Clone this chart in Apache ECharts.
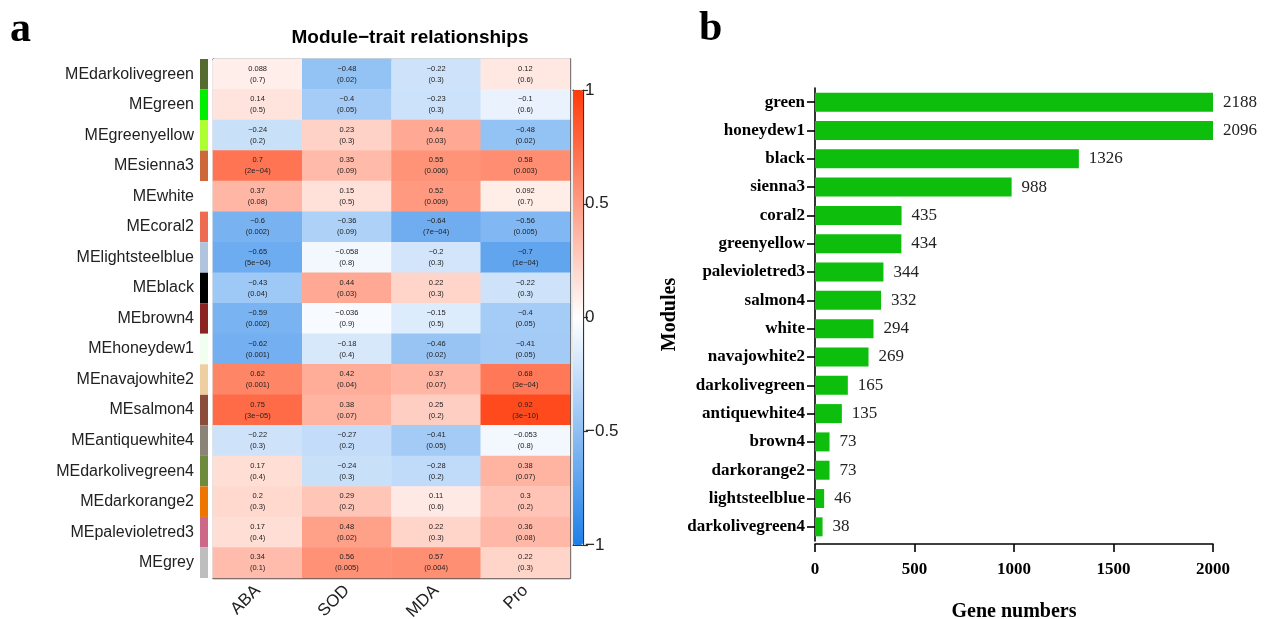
<!DOCTYPE html>
<html>
<head>
<meta charset="utf-8">
<script src="https://cdn.jsdelivr.net/npm/echarts@6/dist/echarts.min.js"></script>
<style>
html,body{margin:0;padding:0;background:#fff;}
#chart{width:1265px;height:619px;}
</style>
</head>
<body>
<div id="chart"></div>
<script>
// ---------- Panel a data ----------
const modules = ['MEdarkolivegreen','MEgreen','MEgreenyellow','MEsienna3','MEwhite','MEcoral2','MElightsteelblue','MEblack','MEbrown4','MEhoneydew1','MEnavajowhite2','MEsalmon4','MEantiquewhite4','MEdarkolivegreen4','MEdarkorange2','MEpalevioletred3','MEgrey'];
const moduleColors = ['#556B2F','#00EE00','#ADFF2F','#CD6839','#FFFFFF','#EE6A50','#B0C4DE','#000000','#8B2323','#F0FFF0','#EECFA1','#8B4C39','#8B8378','#6E8B3D','#EE7600','#CD6889','#BEBEBE'];
const traits = ['ABA','SOD','MDA','Pro'];
const corABA = [0.088,0.14,-0.24,0.7,0.37,-0.6,-0.65,-0.43,-0.59,-0.62,0.62,0.75,-0.22,0.17,0.2,0.17,0.34];
const corSOD = [-0.48,-0.4,0.23,0.35,0.15,-0.36,-0.058,0.44,-0.036,-0.18,0.42,0.38,-0.27,-0.24,0.29,0.48,0.56];
const corMDA = [-0.22,-0.23,0.44,0.55,0.52,-0.64,-0.2,0.22,-0.15,-0.46,0.37,0.25,-0.41,-0.28,0.11,0.22,0.57];
const corPro = [0.12,-0.1,-0.48,0.58,0.092,-0.56,-0.7,-0.22,-0.4,-0.41,0.68,0.92,-0.053,0.38,0.3,0.36,0.22];
const pABA = ['0.7','0.5','0.2','2e-04','0.08','0.002','5e-04','0.04','0.002','0.001','0.001','3e-05','0.3','0.4','0.3','0.4','0.1'];
const pSOD = ['0.02','0.05','0.3','0.09','0.5','0.09','0.8','0.03','0.9','0.4','0.04','0.07','0.2','0.3','0.2','0.02','0.005'];
const pMDA = ['0.3','0.3','0.03','0.006','0.009','7e-04','0.3','0.3','0.5','0.02','0.07','0.2','0.05','0.2','0.6','0.3','0.004'];
const pPro = ['0.6','0.6','0.02','0.003','0.7','0.005','1e-04','0.3','0.05','0.05','3e-04','3e-10','0.8','0.07','0.2','0.08','0.3'];
const colorbarTicks = [-1,-0.5,0,0.5,1];

// ---------- Panel b data ----------
const barModules = ['green','honeydew1','black','sienna3','coral2','greenyellow','palevioletred3','salmon4','white','navajowhite2','darkolivegreen','antiquewhite4','brown4','darkorange2','lightsteelblue','darkolivegreen4'];
const geneCounts = [2188,2096,1326,988,435,434,344,332,294,269,165,135,73,73,46,38];

// ---------- build ----------
const corCols = [corABA, corSOD, corMDA, corPro];
const pCols = [pABA, pSOD, pMDA, pPro];
const minus = s => String(s).replace(/-/g, '\u2212');
const heatData = [];
corCols.forEach((col, ci) => col.forEach((v, ri) => heatData.push([ci, ri, v])));

const SANS = 'Liberation Sans';
const SERIF = 'Liberation Serif';
const frameLine = {show: true, onZero: false, lineStyle: {color: '#555', width: 1.3}};

const option = {
  animation: false,
  backgroundColor: '#fff',
  title: [
    {text: 'a', left: 10, top: 9, padding: 0, textStyle: {fontFamily: SERIF, fontWeight: 'bold', fontSize: 42, color: '#000'}},
    {text: 'b', left: 699, top: 8, padding: 0, textStyle: {fontFamily: SERIF, fontWeight: 'bold', fontSize: 42, color: '#000'}},
    {text: 'Module\u2212trait relationships', left: 410, top: 28, padding: 0, textAlign: 'center',
     textStyle: {fontFamily: SANS, fontWeight: 'bold', fontSize: 19, color: '#000'}}
  ],
  grid: [
    {left: 213, top: 59, width: 357, height: 519, outerBoundsMode: 'none', containLabel: false},
    {left: 200, top: 59, width: 8, height: 519, outerBoundsMode: 'none', containLabel: false},
    {left: 573, top: 90, width: 10, height: 455, outerBoundsMode: 'none', containLabel: false},
    {left: 815, top: 88, width: 398, height: 453, outerBoundsMode: 'none', containLabel: false}
  ],
  visualMap: {
    type: 'continuous', seriesIndex: 0, min: -1, max: 1, calculable: false,
    left: 573, top: 90, itemWidth: 10, itemHeight: 455, padding: 0, text: null,
    inRange: {color: ['#1E7FE8', '#FFFFFF', '#FF3A0A']}
  },
  xAxis: [
    {gridIndex: 0, type: 'category', data: traits, position: 'bottom', axisLine: frameLine, axisTick: {show: false},
     axisLabel: {rotate: 45, fontFamily: SANS, fontSize: 17, color: '#222', margin: 10}},
    {gridIndex: 0, type: 'category', data: traits, position: 'top', axisLine: frameLine, axisTick: {show: false}, axisLabel: {show: false}},
    {gridIndex: 1, type: 'value', min: 0, max: 1, show: false},
    {gridIndex: 2, type: 'value', min: 0, max: 1, position: 'bottom', axisLine: {show: true, onZero: false, lineStyle: {color: '#333', width: 1.2}}, axisTick: {show: false}, axisLabel: {show: false}, splitLine: {show: false}},
    {gridIndex: 2, type: 'value', min: 0, max: 1, position: 'top', axisLine: {show: true, onZero: false, lineStyle: {color: '#333', width: 1.2}}, axisTick: {show: false}, axisLabel: {show: false}, splitLine: {show: false}},
    {gridIndex: 3, type: 'value', min: 0, max: 2000, interval: 500, offset: 3,
     axisLine: {show: true, onZero: false, lineStyle: {color: '#000', width: 1.6}},
     axisTick: {show: true, length: 8, lineStyle: {color: '#000', width: 1.6}},
     axisLabel: {fontFamily: SERIF, fontWeight: 'bold', fontSize: 17, color: '#000', margin: 17, formatter: v => String(v)},
     splitLine: {show: false},
     name: 'Gene numbers', nameLocation: 'middle', nameGap: 58,
     nameTextStyle: {fontFamily: SERIF, fontWeight: 'bold', fontSize: 20, color: '#000'}}
  ],
  yAxis: [
    {gridIndex: 0, type: 'category', data: modules, inverse: true, position: 'left', axisLine: frameLine, axisTick: {show: false}, axisLabel: {show: false}},
    {gridIndex: 0, type: 'category', data: modules, inverse: true, position: 'right', axisLine: frameLine, axisTick: {show: false}, axisLabel: {show: false}},
    {gridIndex: 1, type: 'category', data: modules, inverse: true, axisLine: {show: false}, axisTick: {show: false},
     axisLabel: {fontFamily: SANS, fontSize: 16, color: '#222', margin: 6}},
    {gridIndex: 2, type: 'value', min: colorbarTicks[0], max: colorbarTicks[colorbarTicks.length - 1], interval: 0.5, position: 'right',
     axisLine: {show: true, onZero: false, lineStyle: {color: '#333', width: 1.2}},
     axisTick: {show: true, length: 5, lineStyle: {color: '#333', width: 1.2}},
     axisLabel: {fontFamily: SANS, fontSize: 17, color: '#222', margin: 2, formatter: v => minus(v)},
     splitLine: {show: false}},
    {gridIndex: 2, type: 'value', min: -1, max: 1, position: 'left',
     axisLine: {show: true, onZero: false, lineStyle: {color: '#333', width: 1.2}}, axisTick: {show: false}, axisLabel: {show: false}, splitLine: {show: false}},
    {gridIndex: 3, type: 'category', data: barModules, inverse: true,
     axisLine: {show: true, onZero: false, lineStyle: {color: '#000', width: 1.6}},
     axisTick: {show: true, length: 8, alignWithLabel: true, lineStyle: {color: '#000', width: 1.6}},
     axisLabel: {fontFamily: SERIF, fontWeight: 'bold', fontSize: 17, color: '#000', margin: 10},
     name: 'Modules', nameLocation: 'middle', nameGap: 135, nameRotate: 90,
     nameTextStyle: {fontFamily: SERIF, fontWeight: 'bold', fontSize: 20, color: '#000'}}
  ],
  series: [
    {type: 'heatmap', xAxisIndex: 0, yAxisIndex: 0, data: heatData,
     itemStyle: {borderWidth: 0},
     label: {show: true, fontFamily: SANS, fontSize: 7.5, lineHeight: 11, color: '#222',
       formatter: p => minus(p.data[2]) + '\n(' + minus(pCols[p.data[0]][p.data[1]]) + ')'}},
    {type: 'bar', xAxisIndex: 2, yAxisIndex: 2, barWidth: '100%', silent: true,
     data: moduleColors.map(c => ({value: 1, itemStyle: {color: c}}))},
    {type: 'bar', xAxisIndex: 5, yAxisIndex: 5, data: geneCounts, barWidth: 19,
     itemStyle: {color: '#0DBE0D'},
     label: {show: true, position: 'right', distance: 10, fontFamily: SERIF, fontSize: 17, color: '#222'}}
  ]
};
const chart = echarts.init(document.getElementById('chart'), null, {renderer: 'canvas'});
chart.setOption(option);
</script>
</body>
</html>
